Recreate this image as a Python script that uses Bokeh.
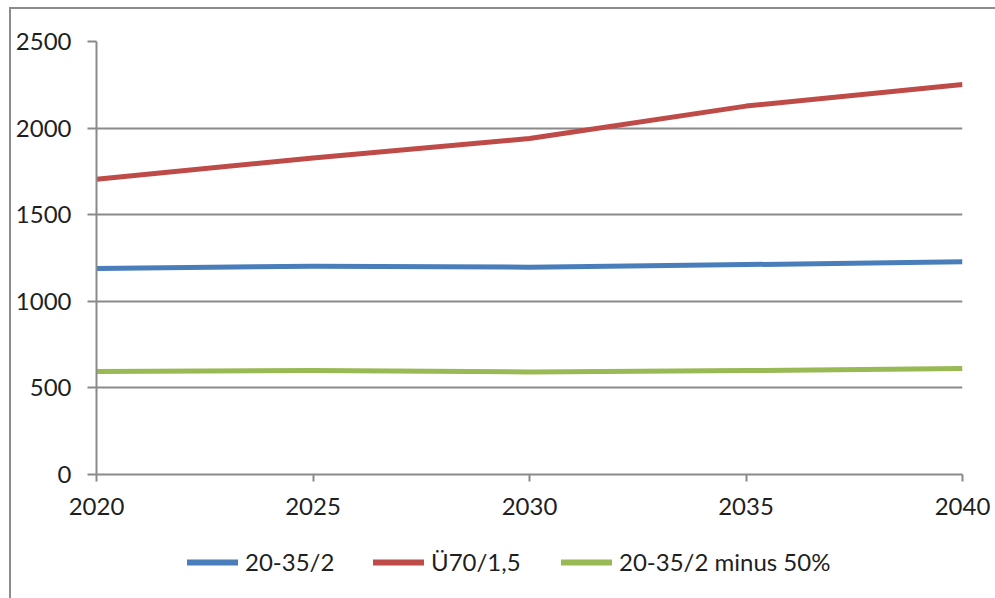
from bokeh.plotting import figure
from bokeh.models import Range1d, FixedTicker, Legend, LegendItem
from bokeh.layouts import column
from bokeh.embed import file_html
from bokeh.resources import INLINE

years = [2020, 2025, 2030, 2035, 2040]
blue_vals = [1190, 1203, 1197, 1212, 1228]
red_vals = [1705, 1828, 1940, 2127, 2252]
green_vals = [595, 600, 592, 600, 612]
series_names = ["20-35/2", "Ü70/1,5", "20-35/2 minus 50%"]
x_ticks = [2020, 2025, 2030, 2035, 2040]
y_ticks = [0, 500, 1000, 1500, 2000, 2500]

series = [blue_vals, red_vals, green_vals]
colors = ["#4A7EBB", "#BE4B48", "#98B954"]
FONT = "Lato"
GRID = "#8a8a8a"
TEXT = "#1f1f1f"

p = figure(width=984, height=521, output_backend="svg", toolbar_location=None,
           x_range=Range1d(2020, 2040), y_range=Range1d(0, 2500),
           min_border_left=85, min_border_right=33, min_border_top=32, min_border_bottom=56)
p.outline_line_color = None
p.background_fill_color = "white"
p.border_fill_color = "white"

p.xgrid.grid_line_color = None
p.ygrid.grid_line_color = GRID
p.ygrid.grid_line_width = 2
p.ygrid.ticker = FixedTicker(ticks=y_ticks)

p.xaxis.ticker = FixedTicker(ticks=x_ticks)
p.yaxis.ticker = FixedTicker(ticks=y_ticks)
for ax in (p.xaxis[0], p.yaxis[0]):
    ax.axis_line_color = GRID
    ax.axis_line_width = 2
    ax.major_tick_line_color = GRID
    ax.major_tick_line_width = 2
    ax.major_tick_in = 0
    ax.minor_tick_line_color = None
    ax.major_label_text_font = FONT
    ax.major_label_text_font_size = "24px"
    ax.major_label_text_color = TEXT
p.xaxis.major_tick_out = 7
p.yaxis.major_tick_out = 9
p.xaxis.major_label_standoff = 16
p.yaxis.major_label_standoff = 16

for vals, c in zip(series, colors):
    p.line(years, vals, line_color=c, line_width=5, line_cap="butt", line_join="round")

# legend strip (separate small figure below the chart, frame aligned with the chart)
lf = figure(width=984, height=68, output_backend="svg", toolbar_location=None,
            x_range=Range1d(0, 1), y_range=Range1d(0, 1),
            min_border_left=0, min_border_right=0, min_border_top=0, min_border_bottom=0)
lf.axis.visible = False
lf.grid.visible = False
lf.outline_line_color = None
lf.border_fill_color = "white"
lf.background_fill_color = "white"

item_x = [91, 277, 465]
for name, vals, c, x0 in zip(series_names, series, colors, item_x):
    r = lf.line(years, vals, line_color=c, line_width=6, line_cap="round", visible=False)
    leg = Legend(items=[LegendItem(label=name, renderers=[r])], location=(x0, 22))
    leg.label_text_font = FONT
    leg.label_text_font_size = "24px"
    leg.label_text_color = TEXT
    leg.glyph_width = 51
    leg.glyph_height = 20
    leg.label_standoff = 7
    leg.padding = 0
    leg.margin = 0
    leg.border_line_alpha = 0
    leg.background_fill_alpha = 0
    leg.inactive_fill_alpha = 0
    leg.click_policy = "none"
    lf.add_layout(leg, "center")

layout = column(p, lf, spacing=0)
layout.styles = {"margin-left": "9px", "margin-top": "7px",
                 "border-left": "2px solid #8c8c8c", "border-top": "2px solid #8c8c8c"}

open("out.html", "w").write(file_html(layout, INLINE))
